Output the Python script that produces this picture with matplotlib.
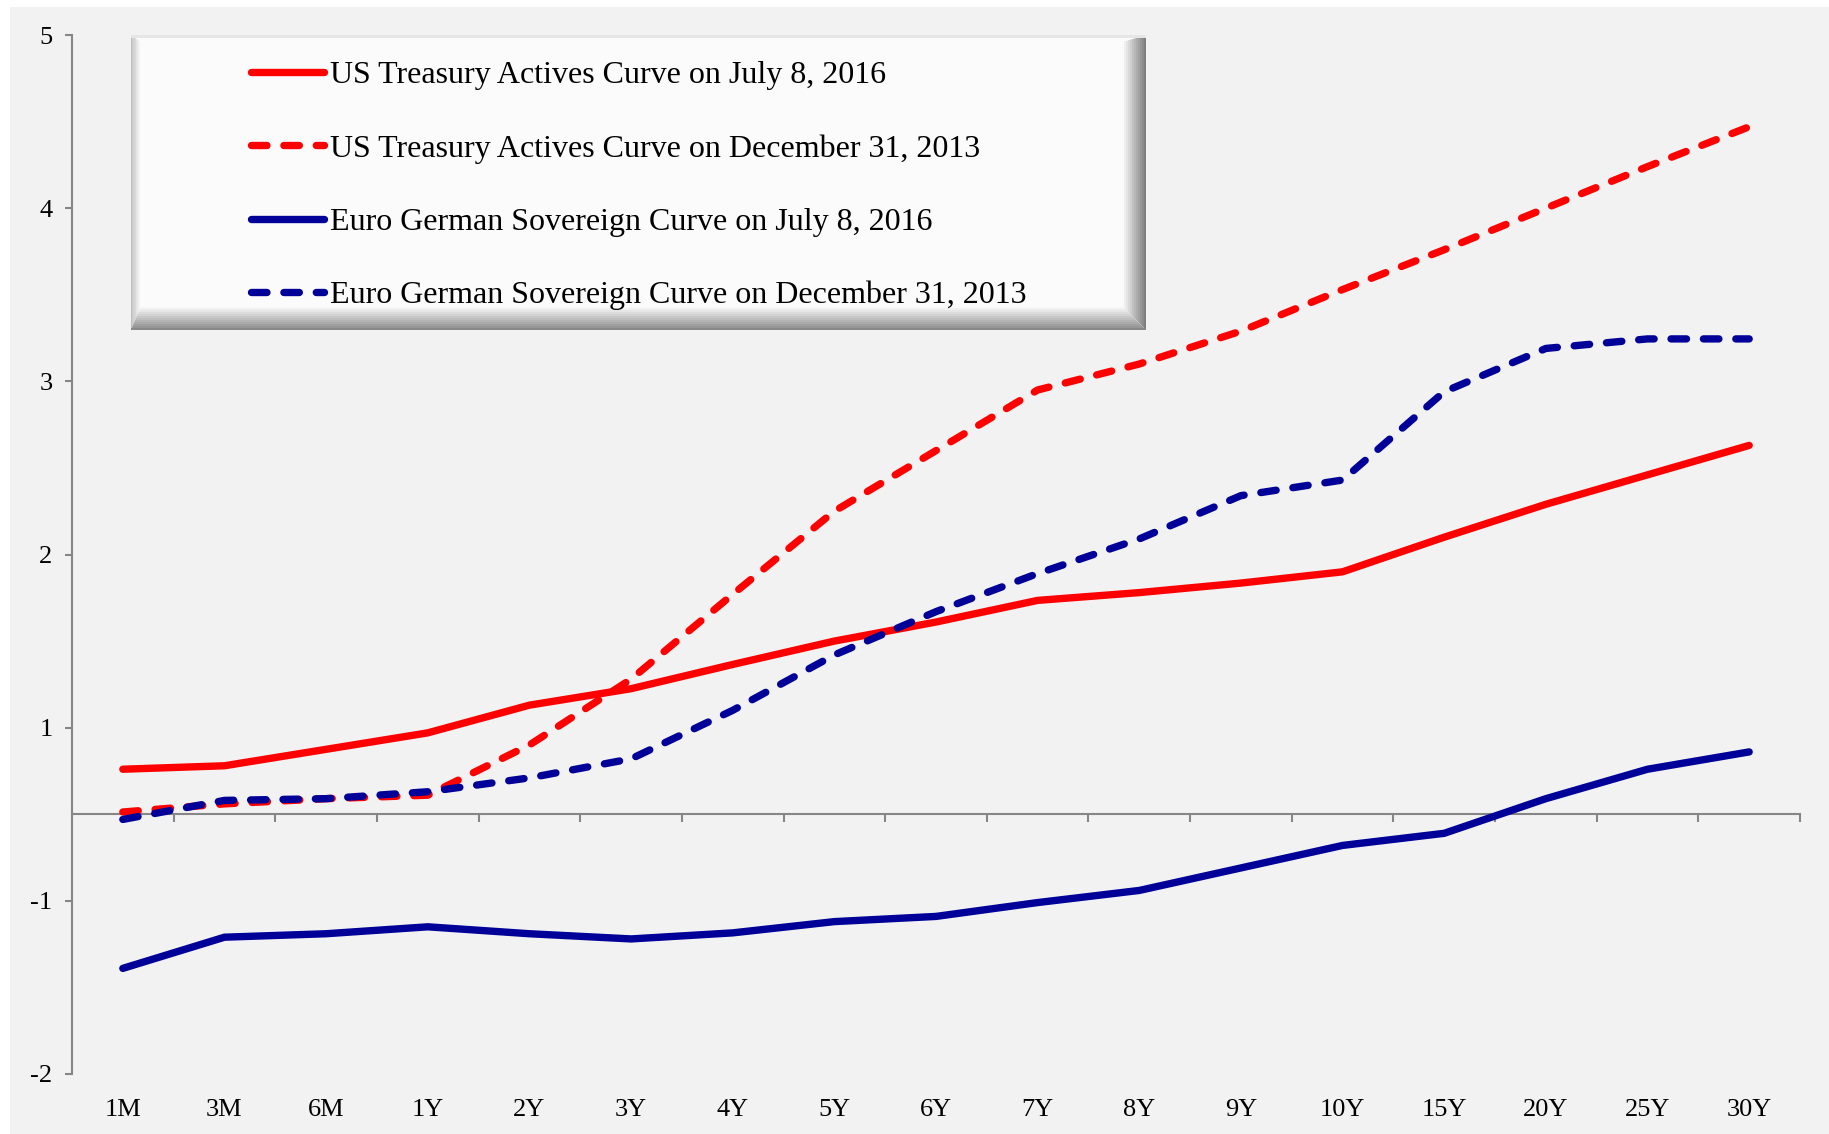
import numpy as np
import matplotlib
matplotlib.use('Agg')
import matplotlib.pyplot as plt
from matplotlib.patches import Rectangle, Polygon

plt.rcParams['font.family'] = ['Liberation Serif', 'DejaVu Serif']

# tenors on the x axis
tenors = ['1M', '3M', '6M', '1Y', '2Y', '3Y', '4Y', '5Y', '6Y', '7Y',
          '8Y', '9Y', '10Y', '15Y', '20Y', '25Y', '30Y']

# yields (%)
us_2016 = [0.26, 0.28, 0.375, 0.47, 0.63, 0.725, 0.865, 1.00, 1.11, 1.235,
           1.28, 1.335, 1.40, 1.60, 1.79, 1.96, 2.13]
us_2013 = [0.013, 0.06, 0.09, 0.11, 0.40, 0.78, 1.27, 1.75, 2.10, 2.45,
           2.60, 2.79, 3.03, 3.26, 3.50, 3.74, 3.97]
de_2016 = [-0.89, -0.71, -0.69, -0.65, -0.69, -0.72, -0.685, -0.62, -0.59, -0.51,
           -0.44, -0.31, -0.18, -0.11, 0.09, 0.26, 0.36]
de_2013 = [-0.03, 0.08, 0.09, 0.13, 0.21, 0.32, 0.60, 0.92, 1.17, 1.39,
           1.59, 1.84, 1.93, 2.44, 2.69, 2.745, 2.745]

labels = ['US Treasury Actives Curve on July 8, 2016',
          'US Treasury Actives Curve on December 31, 2013',
          'Euro German Sovereign Curve on July 8, 2016',
          'Euro German Sovereign Curve on December 31, 2013']

# y tick labels as printed on the original (sitting at half steps)
ytick_pos = [-1.5, -0.5, 0.5, 1.5, 2.5, 3.5, 4.5]
ytick_txt = ['-2', '-1', '1', '2', '3', '4', '5']

W, H = 1829, 1134
fig = plt.figure(figsize=(W / 100, H / 100), dpi=100, facecolor='white')
bg = '#f2f2f2'
fig.patches.append(Rectangle((10 / W, 0), 1 - 10 / W, 1 - 7 / H,
                             transform=fig.transFigure, facecolor=bg,
                             edgecolor='none', zorder=-5))

ax = fig.add_axes([72 / W, 1 - 1074 / H, (1800 - 72) / W, (1074 - 35) / H])
ax.set_facecolor('none')
ax.set_zorder(0.5)

x = np.arange(len(tenors))
red = '#ff0000'
navy = '#000099'
lw = 5.3
dash = (2.1, 2.3)

series = [(us_2016, red, None), (us_2013, red, dash),
          (de_2016, navy, None), (de_2013, navy, dash)]
handles = []
for (vals, col, ds), lab in zip(series, labels):
    line, = ax.plot(x, vals, color=col, lw=lw, label=lab,
                    solid_capstyle='round', solid_joinstyle='round',
                    dash_capstyle='round', dash_joinstyle='round', zorder=3)
    if ds:
        line.set_dashes(ds)
    handles.append(line)

ax.set_xlim(-0.5, len(tenors) - 0.5)
ax.set_ylim(-1.5, 4.5)

axis_gray = '#868686'
for s in ['top', 'right', 'bottom']:
    ax.spines[s].set_visible(False)
ax.spines['left'].set_color(axis_gray)
ax.spines['left'].set_linewidth(1.5)

ax.set_yticks(ytick_pos)
ax.set_yticklabels(ytick_txt)
ax.tick_params(axis='y', direction='out', length=5, width=1.5, color=axis_gray,
               labelsize=19, pad=9)

ax.set_xticks(x)
ax.set_xticklabels(tenors)
ax.tick_params(axis='x', length=0, labelsize=19, pad=18)

# horizontal axis line through zero with ticks between categories
zero = ax.secondary_xaxis((0 - (-1.5)) / 6.0)
zero.spines['bottom'].set_color(axis_gray)
zero.spines['bottom'].set_linewidth(1.5)
zero.set_xticks(np.arange(0.5, len(tenors), 1.0))
zero.tick_params(axis='x', direction='out', length=6, width=1.5,
                 color=axis_gray, labelbottom=False)

# bevelled legend box
lx0, lx1 = 131 / W, 1146 / W
ly0, ly1 = 1 - 330 / H, 1 - 35 / H
bw, bh = 24 / W, 24 / H


def strip(poly, c):
    fig.patches.append(Polygon(poly, closed=True, transform=fig.transFigure,
                               facecolor=c, edgecolor='none', zorder=1))


fig.patches.append(Rectangle((lx0, ly0), lx1 - lx0, ly1 - ly0,
                             transform=fig.transFigure, facecolor='#fbfbfb',
                             edgecolor='none', zorder=1))
n = 12
for i in range(n):
    t0, t1 = i / n, (i + 1) / n
    # bottom bevel: dark at the outer edge, fading inward
    g = 0.55 + 0.43 * (i / (n - 1))
    strip([(lx0 + bw * t0 * 0.4, ly0 + bh * t0), (lx1 - bw * t0, ly0 + bh * t0),
           (lx1 - bw * t1, ly0 + bh * t1), (lx0 + bw * t1 * 0.4, ly0 + bh * t1)],
          (g, g, g))
    # right bevel
    g = 0.50 + 0.48 * (i / (n - 1))
    strip([(lx1 - bw * t0, ly0 + bh * t0), (lx1 - bw * t0, ly1 - bh * t0 * 0.3),
           (lx1 - bw * t1, ly1 - bh * t1 * 0.3), (lx1 - bw * t1, ly0 + bh * t1)],
          (g, g, g))
    # left bevel (light)
    g = 0.70 + 0.28 * (i / (n - 1))
    strip([(lx0 + bw * 0.4 * t0, ly0 + bh * t0), (lx0 + bw * 0.4 * t0, ly1 - bh * 0.3 * t0),
           (lx0 + bw * 0.4 * t1, ly1 - bh * 0.3 * t1), (lx0 + bw * 0.4 * t1, ly0 + bh * t1)],
          (g, g, g))
fig.patches.append(Rectangle((lx0, ly1 - 3 / H), lx1 - lx0, 3 / H,
                             transform=fig.transFigure, facecolor='#e6e6e6',
                             edgecolor='none', zorder=1))
fig.patches.append(Rectangle((lx0, ly0), lx1 - lx0, 2 / H,
                             transform=fig.transFigure, facecolor='#888888',
                             edgecolor='none', zorder=1))

leg = fig.legend(handles=handles, loc='upper left',
                 bbox_to_anchor=(251 / W, 1 - 61 / H), frameon=False,
                 fontsize=23, handlelength=2.28, handletextpad=0.2,
                 labelspacing=1.37, borderpad=0, borderaxespad=0)
leg.set_zorder(5)

fig.savefig('out.png', dpi=100, facecolor=fig.get_facecolor())
